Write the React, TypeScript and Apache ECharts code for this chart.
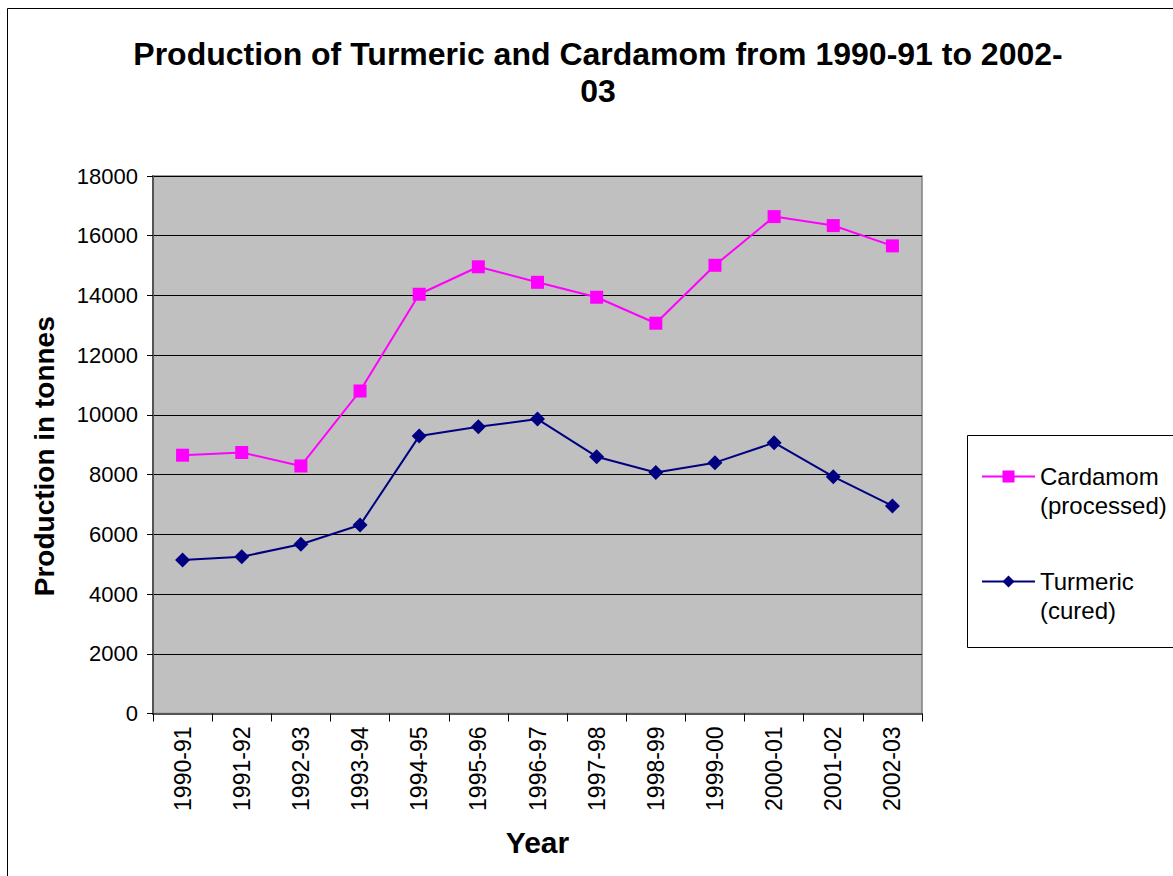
import React, { useEffect, useRef } from "react";
import * as echarts from "echarts";

const years = [
  "1990-91", "1991-92", "1992-93", "1993-94", "1994-95", "1995-96", "1996-97",
  "1997-98", "1998-99", "1999-00", "2000-01", "2001-02", "2002-03",
];
const cardamom = [8650, 8740, 8290, 10800, 14040, 14960, 14440, 13940, 13070, 15010, 16640, 16340, 15660];
const turmeric = [5140, 5250, 5670, 6310, 9290, 9600, 9860, 8600, 8070, 8400, 9070, 7930, 6950];
const seriesNames = ["Cardamom (processed)", "Turmeric (cured)"];
const legendLines: Record<string, string> = {
  "Cardamom (processed)": "\u00a0\nCardamom\n(processed)",
  "Turmeric (cured)": "\u00a0\nTurmeric\n(cured)",
};

const FONT = "'Liberation Sans', Arial, sans-serif";

export default function App() {
  const ref = useRef<HTMLDivElement>(null);
  useEffect(() => {
    document.body.style.margin = "0";
    const chart = echarts.init(ref.current!, null, { renderer: "svg" });
    chart.setOption({
      animation: false,
      backgroundColor: "#ffffff",
      textStyle: { fontFamily: FONT },
      title: {
        text: "Production of Turmeric and Cardamom from 1990-91 to 2002-\n03",
        left: 598,
        top: 35,
        padding: 0,
        textAlign: "center",
        textStyle: {
          fontFamily: FONT,
          fontSize: 32,
          fontWeight: "bold",
          color: "#000",
          lineHeight: 37,
        },
      },
      graphic: [
        {
          type: "rect",
          z: -10,
          shape: { x: 7.5, y: 8.5, width: 1400, height: 1000 },
          style: { fill: "none", stroke: "#000", lineWidth: 1 },
        },
        {
          type: "rect",
          z: -5,
          shape: { x: 967.5, y: 435.5, width: 400, height: 212 },
          style: { fill: "#fff", stroke: "#000", lineWidth: 1 },
        },
      ],
      legend: {
        orient: "vertical",
        left: 981,
        top: 433,
        padding: 0,
        itemGap: 18,
        itemWidth: 53,
        itemHeight: 15,
        data: seriesNames,
        formatter: (n: string) => legendLines[n] || n,
        textStyle: {
          fontFamily: FONT,
          fontSize: 24,
          color: "#000",
          lineHeight: 29,
        },
      },
      grid: {
        left: 153,
        right: 251,
        top: 176,
        bottom: 162.5,
        show: true,
        backgroundColor: "#c0c0c0",
        borderColor: "#808080",
        borderWidth: 1.5,
      },
      xAxis: {
        type: "category",
        data: years,
        boundaryGap: true,
        name: "Year",
        nameLocation: "middle",
        nameGap: 114,
        nameTextStyle: { fontFamily: FONT, fontSize: 30, fontWeight: "bold", color: "#000" },
        axisLine: { lineStyle: { color: "#555", width: 2 } },
        axisTick: { show: true, length: 8, interval: 0, lineStyle: { color: "#000", width: 1 } },
        axisLabel: {
          rotate: 90,
          interval: 0,
          margin: 13,
          fontFamily: FONT,
          fontSize: 23,
          color: "#000",
        },
        splitLine: { show: false },
      },
      yAxis: {
        type: "value",
        min: 0,
        max: 18000,
        interval: 2000,
        name: "Production in tonnes",
        nameLocation: "middle",
        nameGap: 95,
        nameTextStyle: {
          fontFamily: FONT,
          fontSize: 28,
          fontWeight: "bold",
          color: "#000",
          padding: [0, 23, 0, 0],
        },
        axisLine: { show: true, lineStyle: { color: "#555", width: 2 } },
        axisTick: { show: true, length: 6, lineStyle: { color: "#000", width: 1 } },
        axisLabel: {
          margin: 15,
          fontFamily: FONT,
          fontSize: 22,
          color: "#000",
          formatter: (v: number) => String(v),
        },
        splitLine: { show: true, lineStyle: { color: "#000", width: 1 } },
      },
      series: [
        {
          name: seriesNames[0],
          type: "line",
          data: cardamom,
          symbol: "rect",
          symbolSize: 13,
          lineStyle: { color: "#ff00ff", width: 2 },
          itemStyle: { color: "#ff00ff" },
          z: 3,
        },
        {
          name: seriesNames[1],
          type: "line",
          data: turmeric,
          symbol: "diamond",
          symbolSize: 15,
          lineStyle: { color: "#000080", width: 2 },
          itemStyle: { color: "#000080" },
          z: 4,
        },
      ],
    });
    return () => chart.dispose();
  }, []);
  return (
    <div
      ref={ref}
      style={{ position: "fixed", left: 0, top: 0, width: 1173, height: 876, overflow: "hidden" }}
    />
  );
}
